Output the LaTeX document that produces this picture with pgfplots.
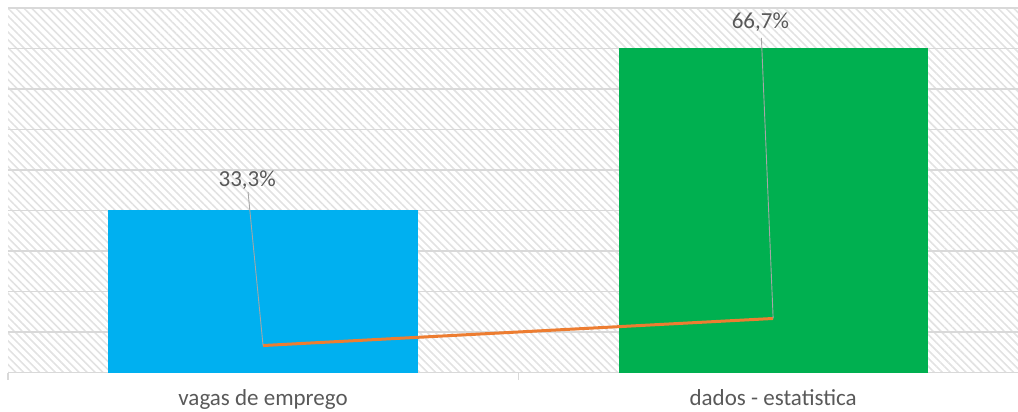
\documentclass[border=0pt]{standalone}
\usepackage{pgfplots}
\pgfplotsset{compat=1.18}
\usepackage{fontspec}
\setmainfont{Carlito}
\usetikzlibrary{patterns.meta}

\definecolor{barblue}{HTML}{00B0F0}
\definecolor{bargreen}{HTML}{00B050}
\definecolor{lineorange}{HTML}{ED7D31}
\definecolor{gridgray}{HTML}{D9D9D9}
\definecolor{hatchgray}{HTML}{E2E2E2}
\definecolor{txtgray}{HTML}{595959}
\definecolor{leadgray}{HTML}{A6A6A6}

\begin{document}
\begin{tikzpicture}
  \useasboundingbox (0,0) rectangle (1018bp,412bp);

  % bars (primary axis)
  \begin{axis}[
      at={(8bp,39.5bp)}, anchor=south west,
      scale only axis,
      width=1010bp, height=364.5bp,
      xmin=-0.5, xmax=1.48,
      ymin=0, ymax=2.25,
      ytick distance=0.25,
      ymajorgrids,
      grid style={gridgray, line width=1.2bp},
      yticklabels={},
      major y tick style={draw=none},
      separate axis lines,
      x axis line style={draw=gridgray, line width=1.2bp},
      y axis line style={draw=none},
      xtick pos=bottom,
      xtick={0,1},
      xticklabels={vagas de emprego, dados - estatistica},
      major x tick style={draw=none},
      xticklabel style={anchor=base, yshift=-28.5bp, text=txtgray,
        font=\fontsize{23bp}{27bp}\selectfont},
      extra x ticks={-0.5,0.5},
      extra x tick labels={},
      extra x tick style={major tick length=7bp, tick align=outside,
        major x tick style={draw=gridgray, line width=1.2bp}},
      axis background/.style={
        pattern={Lines[angle=-45, distance=5.6bp, line width=1.6bp]},
        pattern color=hatchgray},
      ybar, bar width=0.606,
    ]
    \addplot[fill=barblue, draw=none, bar shift=0pt] coordinates {(0,1)};
    \addplot[fill=bargreen, draw=none, bar shift=0pt] coordinates {(1,2)};
  \end{axis}

  % percentage line (secondary axis, hidden)
  \begin{axis}[
      at={(8bp,39.5bp)}, anchor=south west,
      scale only axis,
      width=1010bp, height=364.5bp,
      xmin=-0.5, xmax=1.48,
      ymin=0, ymax=4.5,
      hide axis,
      clip=false,
    ]
    \addplot[lineorange, line width=3bp, mark=none] coordinates {
      (0,0.333) (1,0.667)
    };
    \draw[leadgray, line width=0.9bp] (axis cs:-0.0294,2.228) -- (axis cs:0,0.333);
    \draw[leadgray, line width=0.9bp] (axis cs:0.977,4.130) -- (axis cs:1,0.667);
    \node[text=txtgray, font=\fontsize{23bp}{27bp}\selectfont]
      at (axis cs:-0.031,2.377) {33,3\%};
    \node[text=txtgray, font=\fontsize{23bp}{27bp}\selectfont]
      at (axis cs:0.975,4.327) {66,7\%};
  \end{axis}
\end{tikzpicture}
\end{document}
